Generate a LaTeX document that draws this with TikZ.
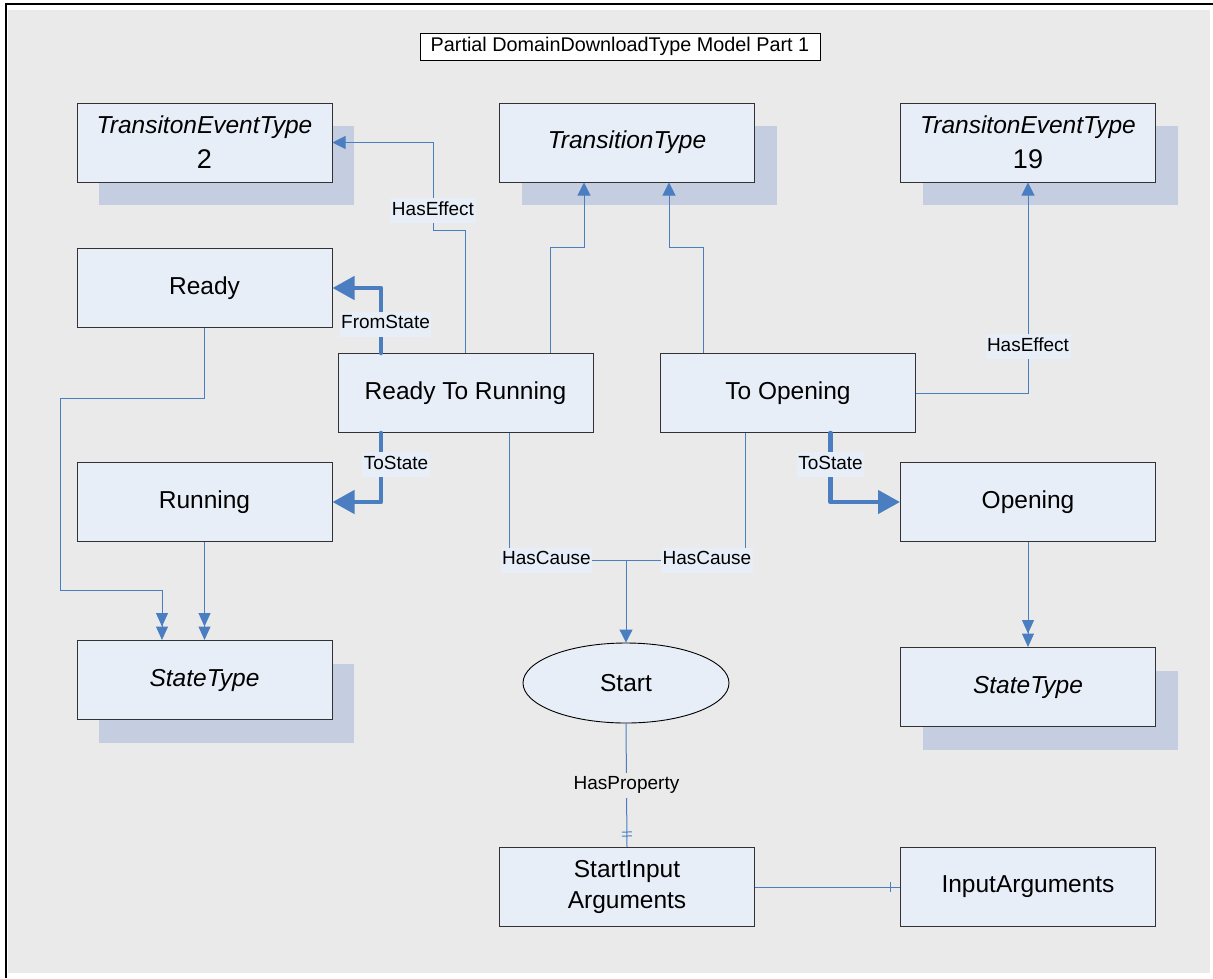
\documentclass[tikz,border=0pt]{standalone}
\usepackage{fontspec}
\setmainfont{Liberation Sans}
\usetikzlibrary{arrows.meta,shapes.geometric,shadows,decorations.markings}
\definecolor{bgc}{RGB}{234,234,234}
\definecolor{boxfill}{RGB}{232,238,247}
\definecolor{shadowc}{RGB}{196,206,224}
\definecolor{linec}{RGB}{74,126,193}
\definecolor{boxdraw}{RGB}{50,50,50}
\begin{document}
\begin{tikzpicture}[x=1pt,y=-1pt,
  box/.style={draw=boxdraw, line width=1pt, fill=boxfill, minimum width=255pt, minimum height=79pt, inner sep=0pt, align=center, font=\fontsize{24.5}{31}\selectfont},
  sbox/.style={box, general shadow={fill=shadowc, shadow xshift=22pt, shadow yshift=-23pt}},
  ell/.style={ellipse, draw=black, line width=0.9pt, fill=boxfill, minimum width=206pt, minimum height=80pt, inner sep=0pt, font=\fontsize{24.5}{31}\selectfont},
  titlebox/.style={draw=black, line width=0.8pt, fill=white, minimum width=400pt, minimum height=27pt, inner sep=0pt, font=\fontsize{19.8}{22}\selectfont},
  lbl/.style={fill=boxfill, inner xsep=1.5pt, inner ysep=2.5pt, text height=14.5pt, text depth=5.5pt, font=\fontsize{19}{22}\selectfont},
  conn/.style={draw=linec, line width=1pt},
  thk/.style={draw=linec, line width=4.5pt, line cap=round, line join=round},
  arr/.style={-{Triangle[length=13pt,width=13pt]}},
  darr/.style={-{Triangle[length=13.5pt,width=12pt,sep=0pt]Triangle[length=13.5pt,width=12pt]}},
  barr/.style={-{Triangle[length=22pt,width=23pt]}},
  onebar/.style={postaction={decorate, decoration={markings,
     mark=at position -10pt with {\draw[conn] (0pt,-5pt) -- (0pt,5pt);}}}},
  twobar/.style={postaction={decorate, decoration={markings,
     mark=at position -11pt with {\draw[conn] (0pt,-5pt) -- (0pt,5pt);},
     mark=at position -15pt with {\draw[conn] (0pt,-5pt) -- (0pt,5pt);}}}}
]
\useasboundingbox (0,0) rectangle (1213,978);
\fill[white] (0,0) rectangle (1213,978);
\fill[bgc] (8,10) rectangle (1210,973);
\draw[line width=2.5pt] (6,978) -- (6,4) -- (1213,4);

% nodes
\node[titlebox] (title) at (620,46.5) {Partial DomainDownloadType Model Part 1};
\node[sbox, font=\fontsize{24.5}{35}\selectfont] (tet2) at (204.5,142.5) {\textit{TransitonEventType}\\{\fontsize{27}{35}\selectfont 2}};
\node[sbox] (tt) at (627,142.5) {\textit{TransitionType}};
\node[sbox, font=\fontsize{24.5}{35}\selectfont] (tet19) at (1028,142.5) {\textit{TransitonEventType}\\{\fontsize{27}{35}\selectfont 19}};
\node[box] (ready) at (204.5,288) {Ready};
\node[box] (rtr) at (465.5,393) {Ready To Running};
\node[box] (topen) at (788,393) {To Opening};
\node[box] (running) at (204.5,502) {Running};
\node[box] (opening) at (1028,502) {Opening};
\node[sbox] (st1) at (204.5,680) {\textit{StateType}};
\node[sbox] (st2) at (1028,687) {\textit{StateType}};
\node[ell] (start) at (626,683) {Start};
\node[box] (sia) at (627,887) {StartInput\\Arguments};
\node[box] (ia) at (1028,887) {InputArguments};

% bend points
\coordinate (heL) at (433,230);
\coordinate (b1) at (584,247);
\coordinate (b2) at (669,247);
\coordinate (r1) at (60,398);
\coordinate (r2) at (162,590);
\coordinate (hc) at (626,560);

% connectors
\draw[conn,arr] (rtr.north) |- (heL) |- node[lbl,pos=0.11] (lhe1) {HasEffect} (tet2.east);
\draw[conn,arr] ([xshift=84.5pt]rtr.north) |- (b1) -- (b1 |- tt.south);
\draw[conn,arr] ([xshift=-85pt]topen.north) |- (b2) -- (b2 |- tt.south);
\draw[conn,arr] (topen.east) -| node[lbl,pos=0.61] (lhe2) {HasEffect} (tet19.south);
\draw[thk,barr] ([xshift=-84.5pt]rtr.north) |- node[lbl,pos=0.22,xshift=4.5pt] (lfrom) {FromState} (ready.east);
\draw[thk,barr] ([xshift=-84.5pt]rtr.south) |- node[lbl,pos=0.23,xshift=15pt] (lto1) {ToState} (running.east);
\draw[thk,barr] ([xshift=42.5pt]topen.south) |- node[lbl,pos=0.23] (lto2) {ToState} (opening.west);
\draw[conn,darr] (ready.south) |- (r1) |- (r2) -- (r2 |- st1.north);
\draw[conn,darr] (running.south) -- (st1.north);
\draw[conn,darr] (opening.south) -- (st2.north);
\draw[conn] ([xshift=43.5pt]rtr.south) |- node[lbl,pos=0.66] (lc1) {HasCause} (hc);
\draw[conn] ([xshift=-43pt]topen.south) |- node[lbl,pos=0.66] (lc2) {HasCause} (hc);
\draw[conn,arr] (hc) -- (start.north);
\draw[conn,twobar] (start.south) -- node[lbl,fill=bgc] (lprop) {HasProperty} (sia.north);
\draw[conn,onebar] (sia.east) -- (ia.west);
\end{tikzpicture}
\end{document}
